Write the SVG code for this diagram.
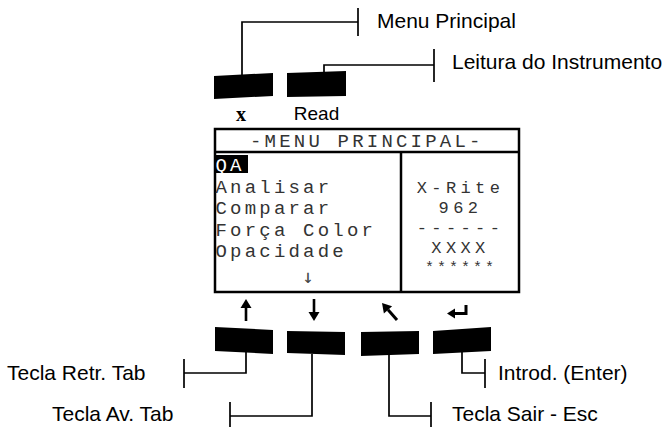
<svg xmlns="http://www.w3.org/2000/svg" width="666" height="427" viewBox="0 0 666 427">
<style>
.key{fill:#000}
.ln{fill:none;stroke:#000;stroke-width:1.7}
.lbl{font-family:"Liberation Sans",Arial,sans-serif;font-size:21px;fill:#000}
.lcd{font-family:"Liberation Mono","DejaVu Sans Mono",monospace;font-size:19px;letter-spacing:3.2px;fill:#333}
.lcdr{font-family:"Liberation Mono","DejaVu Sans Mono",monospace;font-size:17px;letter-spacing:4.4px;fill:#333}
.frame{fill:#fff;stroke:#000;stroke-width:2.5}
.arr{fill:#000}
.ash{stroke:#000;stroke-width:3;fill:none}
</style>
<rect width="666" height="427" fill="#fff"/>

<g id="screen">
<rect class="frame" x="215" y="129" width="304" height="163"/>
<line x1="215" y1="152" x2="519" y2="152" stroke="#000" stroke-width="2.5"/>
<line x1="401" y1="152" x2="401" y2="292" stroke="#000" stroke-width="2.5"/>
<text class="lcd" x="250" y="147">-MENU PRINCIPAL-</text>
<rect x="215" y="155" width="33" height="18" fill="#000"/>
<text class="lcd" x="215.5" y="171" style="fill:#fff">QA</text>
<text class="lcd" x="215.5" y="192.5">Analisar</text>
<text class="lcd" x="215.5" y="214">Comparar</text>
<text class="lcd" x="215.5" y="235.5">Força Color</text>
<text class="lcd" x="215.5" y="257">Opacidade</text>
<text x="308" y="283" text-anchor="middle" style="font-family:'DejaVu Sans Mono','DejaVu Sans',monospace;font-size:19px;fill:#444">↓</text>
<text class="lcdr" x="460.5" y="193" text-anchor="middle">X-Rite</text>
<text class="lcdr" x="460.5" y="213" text-anchor="middle">962</text>
<text class="lcdr" x="460.5" y="233" text-anchor="middle">------</text>
<text class="lcdr" x="460.5" y="253" text-anchor="middle">XXXX</text>
<text x="461" y="272" text-anchor="middle" style="font-family:'Liberation Mono',monospace;font-size:15px;letter-spacing:3px;fill:#333">******</text>
</g>

<g id="key-x">
<polygon class="key" points="214,76 273,73 273,96 214,99"/>
<text x="241" y="121" text-anchor="middle" style="font-family:'Liberation Serif',serif;font-weight:bold;font-size:20px">x</text>
</g>
<g id="key-read">
<polygon class="key" points="287,73 346,71 346,96 287,97"/>
<text x="316.5" y="120" text-anchor="middle" class="lbl" style="font-size:19px">Read</text>
</g>

<g id="key-up">
<polygon class="key" points="215,327 273,330 273,354 215,351"/>
<rect class="arr" x="244.7" y="306" width="2.6" height="15"/>
<polygon class="arr" points="246,299 240.5,308 251.5,308"/>
</g>
<g id="key-down">
<polygon class="key" points="287,331 345,332 345,355 287,353"/>
<rect class="arr" x="312.7" y="299" width="2.6" height="14"/>
<polygon class="arr" points="314,321 308.5,312 319.5,312"/>
</g>
<g id="key-esc">
<polygon class="key" points="361,332 419,331 419,354 361,356"/>
<line class="ash" x1="388" y1="309.8" x2="397" y2="320"/>
<polygon class="arr" points="382,303 383.9,313.4 392.1,306.2"/>
</g>
<g id="key-enter">
<polygon class="key" points="433,331 491,327 491,351 433,354"/>
<polyline class="ash" points="466,305 466,313.5 454,313.5"/>
<polygon class="arr" points="447,313.5 455,308.5 455,318.5"/>
</g>

<g id="label-menu"><text class="lbl" x="377" y="28">Menu Principal</text></g>
<g id="label-leitura"><text class="lbl" x="452" y="69">Leitura do Instrumento</text></g>
<g id="label-retr"><text class="lbl" x="7" y="380">Tecla Retr. Tab</text></g>
<g id="label-av"><text class="lbl" x="52" y="421">Tecla Av. Tab</text></g>
<g id="label-sair"><text class="lbl" x="452" y="421">Tecla Sair - Esc</text></g>
<g id="label-enter"><text class="lbl" x="498" y="380">Introd. (Enter)</text></g>

<g id="connectors">
<polyline class="ln" points="242,76 242,22 358,22"/>
<line class="ln" x1="358" y1="8" x2="358" y2="36"/>
<polyline class="ln" points="324,72 324,65 434,65"/>
<line class="ln" x1="434" y1="49" x2="434" y2="82"/>
<polyline class="ln" points="246,352 246,373 184,373"/>
<line class="ln" x1="184" y1="359" x2="184" y2="388"/>
<polyline class="ln" points="312,354 312,416 230,416"/>
<line class="ln" x1="230" y1="402" x2="230" y2="430"/>
<polyline class="ln" points="389,355 389,416 431,416"/>
<line class="ln" x1="431" y1="402" x2="431" y2="430"/>
<polyline class="ln" points="462,352 462,373 485,373"/>
<line class="ln" x1="485" y1="359" x2="485" y2="388"/>
</g>
</svg>
